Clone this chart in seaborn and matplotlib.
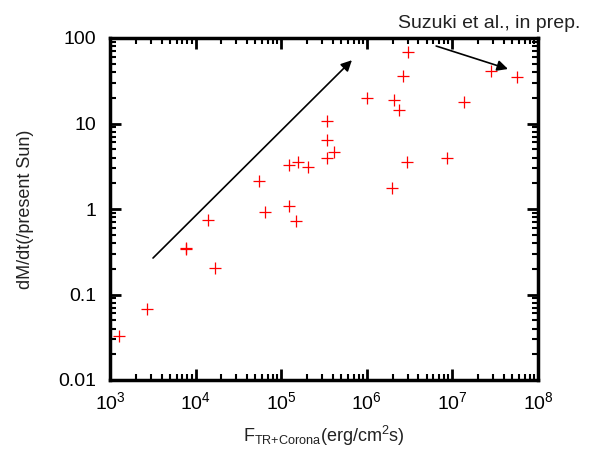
import numpy as np
import pandas as pd
import matplotlib
matplotlib.use("Agg")
import matplotlib.pyplot as plt
import matplotlib.ticker as mticker
import seaborn as sns

# Energy flux into transition region + corona vs. mass loss rate
flux = [1.27e3, 2.7e3, 7.7e3, 7.8e3, 1.4e4, 1.7e4, 5.5e4, 6.5e4,
        1.23e5, 1.23e5, 1.48e5, 1.58e5, 2.04e5, 3.4e5, 3.4e5, 3.45e5,
        4.1e5, 1.0e6, 2.08e6, 2.38e6, 3.0e6, 2.64e6, 1.97e6, 2.95e6,
        8.65e6, 1.37e7, 2.8e7, 5.7e7]
mdot = [0.033, 0.068, 0.34, 0.35, 0.74, 0.204, 2.12, 0.92,
        1.08, 3.27, 0.72, 3.55, 3.1, 3.95, 6.4, 10.7,
        4.6, 19.9, 18.8, 14.4, 68.5, 36.0, 1.76, 3.55,
        3.95, 17.8, 41.0, 35.0]

# trend arrows (tail, head)
arrow_up = [(3.18e3, 0.267), (6.7e5, 55.0)]
arrow_sat = [(6.46e6, 80.6), (4.46e7, 43.4)]

xlim = (1e3, 1e8)
ylim = (0.01, 100)

df = pd.DataFrame({"flux": flux, "mdot": mdot})

sns.set_style("ticks")
plt.rcParams["font.family"] = ["Liberation Sans", "DejaVu Sans"]
plt.rcParams["mathtext.default"] = "regular"

fig = plt.figure(figsize=(6.06, 4.5), dpi=100)
ax = fig.add_axes([110 / 606, 1 - 380 / 450, 428 / 606, 342 / 450])

sns.scatterplot(data=df, x="flux", y="mdot", marker="+", color="red",
                s=80, linewidth=0.9, ax=ax, zorder=3)

ax.set_xscale("log")
ax.set_yscale("log")
ax.set_xlim(*xlim)
ax.set_ylim(*ylim)

for (tail, head) in [arrow_up, arrow_sat]:
    ax.annotate("", xy=head, xytext=tail,
                arrowprops=dict(arrowstyle="-|>", color="black", lw=1.2,
                                mutation_scale=16, shrinkA=0, shrinkB=0))

ax.yaxis.set_major_formatter(mticker.FuncFormatter(lambda v, p: "%g" % v))
ax.xaxis.set_minor_locator(mticker.LogLocator(base=10, subs=np.arange(2, 10)))
ax.yaxis.set_minor_locator(mticker.LogLocator(base=10, subs=np.arange(2, 10)))
ax.xaxis.set_minor_formatter(mticker.NullFormatter())
ax.yaxis.set_minor_formatter(mticker.NullFormatter())

ax.tick_params(which="both", direction="in", top=True, right=True,
               labelsize=14, colors="black")
ax.tick_params(which="major", length=8, width=2)
ax.tick_params(which="minor", length=4, width=1.5)
ax.tick_params(axis="x", which="major", pad=8)
ax.tick_params(axis="y", which="major", pad=10)
for sp in ax.spines.values():
    sp.set_visible(True)
    sp.set_linewidth(2.5)
    sp.set_color("black")

ax.set_xlabel(r"F$_{TR{+}Corona}$(erg/cm$^{2}$s)", fontsize=13,
              color="#222222", labelpad=8)
ax.set_ylabel("dM/dt(/present Sun)", fontsize=13, color="#222222", labelpad=17)

fig.text(398 / 606, 1 - 28 / 450, "Suzuki et al., in prep.", fontsize=14,
         ha="left", va="baseline", color="#222222")

fig.savefig("out.png", dpi=100)
